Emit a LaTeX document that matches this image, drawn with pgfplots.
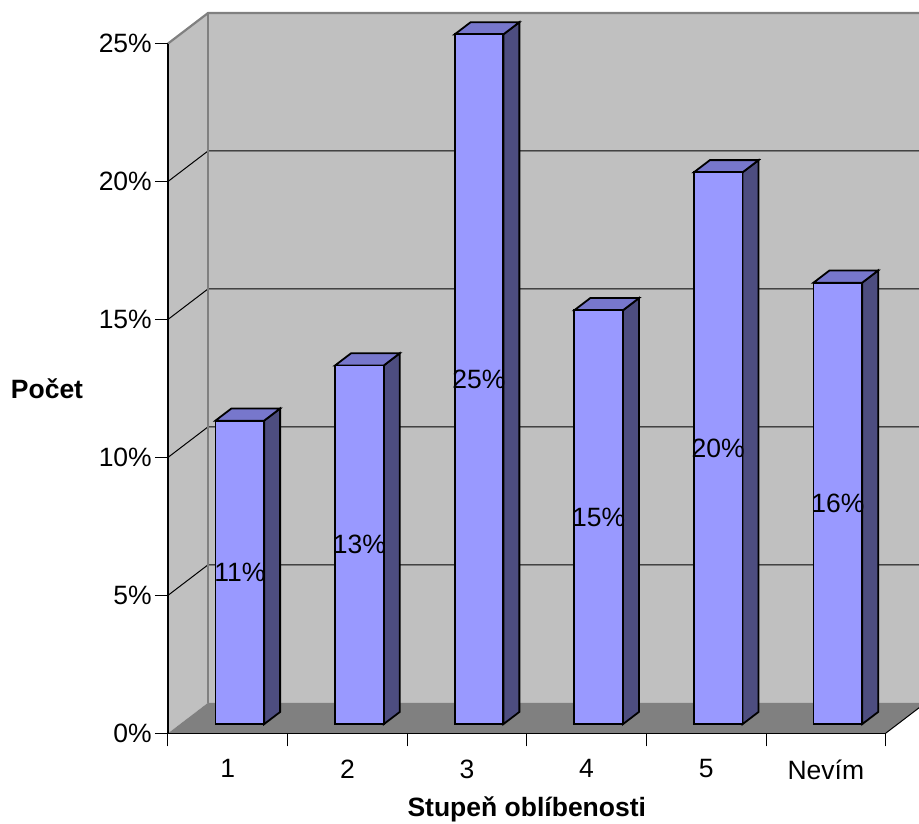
\documentclass[border=0pt]{standalone}
\usepackage{pgfplots}
\pgfplotsset{compat=1.18}
\usepackage{fontspec}
\setmainfont{Liberation Sans}
\definecolor{barfront}{HTML}{9999FF}
\definecolor{barside}{HTML}{4D4D80}
\definecolor{bartop}{HTML}{7777CC}
\definecolor{wallgray}{HTML}{C0C0C0}
\definecolor{floorgray}{HTML}{808080}
\definecolor{edgegray}{HTML}{808080}
\newcommand{\barval}{0}
% 3D bar drawn from its top front point; \barval = bar value (percent)
\pgfdeclareplotmark{bar3d}{%
  \pgfmathsetlengthmacro{\hh}{\barval*27.59pt}%
  \pgfsetlinewidth{1.8pt}\pgfsetmiterjoin
  \pgfsetstrokecolor{black}%
  \pgfsetfillcolor{barside}%
  \pgfpathmoveto{\pgfpoint{36.35pt}{9.15pt-\hh}}%
  \pgfpathlineto{\pgfpoint{52.35pt}{21.35pt-\hh}}%
  \pgfpathlineto{\pgfpoint{52.35pt}{21.35pt}}%
  \pgfpathlineto{\pgfpoint{36.35pt}{9.15pt}}%
  \pgfpathclose
  \pgfusepath{fill,stroke}%
  \pgfsetfillcolor{bartop}%
  \pgfpathmoveto{\pgfpoint{-12.35pt}{9.15pt}}%
  \pgfpathlineto{\pgfpoint{36.35pt}{9.15pt}}%
  \pgfpathlineto{\pgfpoint{52.35pt}{21.35pt}}%
  \pgfpathlineto{\pgfpoint{3.65pt}{21.35pt}}%
  \pgfpathclose
  \pgfusepath{fill,stroke}%
  \pgfsetfillcolor{barfront}%
  \pgfpathrectanglecorners{\pgfpoint{-12.35pt}{9.15pt-\hh}}{\pgfpoint{36.35pt}{9.15pt}}%
  \pgfusepath{fill,stroke}%
}
\begin{document}
\fontsize{26.5}{31}\selectfont
\begin{tikzpicture}
\useasboundingbox (-168pt,-89.7pt) rectangle (751pt,733.3pt);
\clip (-168pt,-89.7pt) rectangle (751pt,733.3pt);
\begin{axis}[
  at={(0pt,0pt)}, anchor=south west,
  x=119.6pt, y=27.59pt,
  xmin=0, xmax=6, ymin=0, ymax=25,
  clip=false, axis on top,
  axis lines*=left,
  axis line style={black, line width=1.2pt},
  /pgf/number format/assume math mode=true,
  ytick={0,5,...,25},
  yticklabel={\pgfmathprintnumber{\tick}\%},
  yticklabel style={inner sep=3pt},
  xtick={0.5,1.5,2.5,3.5,4.5,5.5},
  xticklabels={1,2,3,4,5,Nevím},
  xticklabel style={inner sep=0pt, yshift=-13pt},
  minor xtick={0,1,2,3,4,5,6},
  tick align=outside,
  major tick length=13pt,
  minor tick length=13pt,
  tick style={black, line width=1pt},
  major x tick style={draw=none},
  ylabel={\textbf{Počet}},
  every axis y label/.style={at={(axis description cs:0,0.5)}, anchor=center, xshift=-121pt},
  xlabel={\textbf{Stupeň oblíbenosti}},
  every axis x label/.style={at={(axis description cs:0.5,0)}, anchor=base, yshift=-82.7pt},
]
% left wall
\fill[wallgray] (axis cs:0,0) -- ([shift={(40pt,30.5pt)}]axis cs:0,0) -- ([shift={(40pt,30.5pt)}]axis cs:0,25) -- (axis cs:0,25) -- cycle;
% back wall
\fill[wallgray] ([shift={(40pt,30.5pt)}]axis cs:0,0) rectangle ([shift={(40pt,30.5pt)}]axis cs:6,25);
% floor
\fill[floorgray] (axis cs:0,0) -- (axis cs:6,0) -- ([shift={(40pt,30.5pt)}]axis cs:6,0) -- ([shift={(40pt,30.5pt)}]axis cs:0,0) -- cycle;
\draw[black, line width=1pt] (axis cs:6,0) -- ([shift={(40pt,30.5pt)}]axis cs:6,0);
% grid lines
\pgfplotsinvokeforeach{5,10,15,20}{
  \draw[black, line width=1pt] (axis cs:0,#1) -- ([shift={(40pt,30.5pt)}]axis cs:0,#1) -- ([shift={(40pt,30.5pt)}]axis cs:6,#1);
}
% wall edges
\draw[edgegray, line width=2.2pt] (axis cs:0,25) -- ([shift={(40pt,30.5pt)}]axis cs:0,25) -- ([shift={(40pt,30.5pt)}]axis cs:6,25);
\draw[edgegray, line width=2.2pt] ([shift={(40pt,30.5pt)}]axis cs:0,0) -- ([shift={(40pt,30.5pt)}]axis cs:0,25);
% bars
\addplot[scatter, only marks, mark=bar3d,
  scatter/@pre marker code/.code={},
  scatter/@post marker code/.code={},
  visualization depends on={rawy \as \barval},
  nodes near coords={\pgfmathprintnumber{\pgfplotspointmeta}\%},
  every node near coord/.append style={anchor=center, xshift=12pt, yshift={9.15pt-\barval*13.795pt}, text=black, inner sep=0pt},
] coordinates {(0.5,11) (1.5,13) (2.5,25) (3.5,15) (4.5,20) (5.5,16)};
\end{axis}
\end{tikzpicture}
\end{document}
